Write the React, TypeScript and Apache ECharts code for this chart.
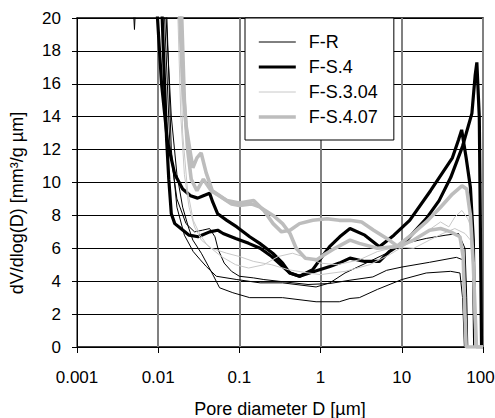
import React, { useEffect, useRef } from "react";
import * as echarts from "echarts";

const FONT = "'Liberation Sans', Arial, sans-serif";

const seriesNames = ["F-R", "F-S.4", "F-S.3.04", "F-S.4.07"];
const xTickLabels = ["0.001", "0.01", "0.1", "1", "10", "100"];

// F-R (thin black)
const frA: number[][] = [[0.004,30],[0.0049,21],[0.0051,19.3],[0.0053,21],[0.006,30],[0.011,30],[0.0125,20],[0.0145,14],[0.017,10.5],[0.02,8.5],[0.0235,7.3],[0.0267,6.5],[0.034,5.7],[0.046,4.5],[0.057,3.6],[0.083,3.3],[0.134,3.0],[0.34,3.0],[0.88,2.75],[1.7,2.75],[2.3,2.95],[3,3.0],[5,3.5],[10,4.1],[20,4.5],[40,4.6],[52,4.5],[56,3],[59,0]];
const frB: number[][] = [[0.011,30],[0.012,20],[0.014,12],[0.017,9],[0.022,7.5],[0.028,7.0],[0.035,7.1],[0.043,7.2],[0.05,6.7],[0.055,5.9],[0.065,5.1],[0.08,4.6],[0.1,4.3],[0.15,4.2],[0.2,4.1],[0.3,4.0],[0.7,3.8],[1.3,3.86],[2.3,4.06],[4.4,4.26],[6.5,4.66],[10,4.86],[22,5.15],[47,5.45],[60,5.25],[62,3],[64,0]];
const frC: number[][] = [[0.011,30],[0.0128,20],[0.0145,12],[0.017,8.5],[0.021,6.8],[0.027,5.8],[0.033,5.3],[0.039,4.9],[0.052,4.3],[0.093,4.1],[0.18,3.9],[0.34,3.9],[0.88,3.65],[1.3,3.9],[2,4.5],[4,5.2],[6.5,5.7],[11,6.3],[20,6.6],[35,6.8],[50,6.9],[60,6.0],[63,3],[65,0]];

// F-S.4 (thick black)
const fs4A: number[][] = [[0.008,40],[0.0098,20],[0.011,16],[0.013,12.5],[0.016,10.5],[0.02,9.6],[0.025,9.2],[0.0306,9.05],[0.036,9.2],[0.043,9.35],[0.047,8.8],[0.054,8.1],[0.07,7.7],[0.093,7.3],[0.134,6.7],[0.178,6.3],[0.257,5.7],[0.341,5.1],[0.416,4.5],[0.552,4.3],[0.8,4.7],[0.975,5.3],[1.29,6.1],[1.72,6.7],[2.3,7.2],[3.5,6.8],[5.3,6.1],[8,6.8],[12.5,7.7],[22.6,9.5],[42,11.5],[50,12.6],[54.6,13.2],[62,11.5],[70,9.7],[76,6.5],[79,0]];
const fs4B: number[][] = [[0.009,40],[0.0112,20],[0.0127,12.6],[0.0135,10.2],[0.0145,8.1],[0.016,7.5],[0.019,7.2],[0.024,6.8],[0.031,6.7],[0.043,7.0],[0.054,7.1],[0.063,6.9],[0.09,6.6],[0.13,6.3],[0.18,6.0],[0.25,5.5],[0.34,4.9],[0.42,4.5],[0.55,4.3],[0.85,4.6],[1.3,4.9],[1.7,5.1],[2.3,5.4],[3.5,5.2],[5.3,5.2],[7,5.8],[11.5,6.5],[20,7.8],[28.8,8.9],[40,10.3],[56,12.2],[73,14.2],[80,16.5],[84,17.3],[90,14],[96,0],[100,0]];

// F-S.3.04 (thin grey)
const fs304A: number[][] = [[0.015,30],[0.0175,20],[0.019,14],[0.021,10.5],[0.024,8.5],[0.028,7.3],[0.034,6.5],[0.045,6.0],[0.07,5.7],[0.1,5.5],[0.15,5.2],[0.25,5.0],[0.4,4.7],[0.7,4.5],[1,4.4],[2,4.6],[4,5.0],[7,5.6],[12,6.3],[20,7.0],[30,7.6],[38,7.3],[45,7.9],[55,8.3],[65,7.8],[72,7.2],[76,5],[79,0]];
const fs304B: number[][] = [[0.016,30],[0.0185,20],[0.02,13],[0.023,9.5],[0.027,7.7],[0.033,6.8],[0.04,6.2],[0.06,5.5],[0.09,5.0],[0.13,4.8],[0.2,5.0],[0.3,5.5],[0.45,5.7],[0.7,5.4],[1,5.1],[1.6,5.0],[3,5.3],[5,5.8],[9,6.1],[14,6.0],[22,6.5],[32,6.9],[45,7.2],[60,6.9],[70,6.5],[75,5],[80,0]];

// F-S.4.07 (thick grey)
const fs407A: number[][] = [[0.016,30],[0.0185,20],[0.02,16],[0.022,13.5],[0.0245,12.0],[0.0267,10.9],[0.03,11.5],[0.0338,11.8],[0.0389,10.6],[0.0464,9.5],[0.07,8.9],[0.1,8.75],[0.15,8.9],[0.2,8.3],[0.26,7.5],[0.33,7.0],[0.42,7.1],[0.55,7.5],[0.8,7.7],[1.2,7.8],[1.7,7.7],[2.3,7.7],[3.2,7.6],[4.5,7.1],[7,6.5],[9,6.1],[14,6.5],[22,7.1],[30,7.2],[40,7.0],[52,6.7],[57,5.5],[60,2],[62,0],[100,0]];
const fs407B: number[][] = [[0.017,30],[0.0195,20],[0.021,15],[0.023,12],[0.0255,10.2],[0.03,9.5],[0.036,10.2],[0.045,9.5],[0.06,9.1],[0.08,8.7],[0.1,8.6],[0.14,8.7],[0.18,8.5],[0.26,8.0],[0.34,7.5],[0.42,6.9],[0.5,6.0],[0.65,5.4],[0.9,5.3],[1.1,5.6],[1.5,6.0],[2.3,6.5],[3,6.3],[5,6.0],[8.6,6.1],[13,6.8],[20,7.6],[30,8.5],[42,9.3],[55,9.8],[63,9.6],[70,8],[76,5],[83,0],[100,0]];

const styles: Record<string, { color: string; width: number }> = {
  "F-R": { color: "#000000", width: 1 },
  "F-S.4": { color: "#000000", width: 3.2 },
  "F-S.3.04": { color: "#c8c8c8", width: 1 },
  "F-S.4.07": { color: "#bdbdbd", width: 3.6 },
};

const curves: [string, number[][]][] = [
  ["F-R", frA], ["F-R", frB], ["F-R", frC],
  ["F-S.4", fs4A], ["F-S.4", fs4B],
  ["F-S.3.04", fs304A], ["F-S.3.04", fs304B],
  ["F-S.4.07", fs407A], ["F-S.4.07", fs407B],
];

export default function App() {
  const ref = useRef<HTMLDivElement>(null);
  useEffect(() => {
    if (!ref.current) return;
    const chart = echarts.init(ref.current, undefined, { renderer: "svg" });
    chart.setOption({
      animation: false,
      backgroundColor: "#ffffff",
      textStyle: { fontFamily: FONT },
      grid: {
        left: 77, right: 12, top: 18, bottom: 71,
        show: true, borderColor: "#000", borderWidth: 1.5,
        outerBoundsMode: "none",
        containLabel: false,
      },
      legend: {
        data: seriesNames.map((n) => ({
          name: n,
          lineStyle: { width: styles[n].width, color: styles[n].color },
          itemStyle: { opacity: 0 },
        })),
        orient: "vertical",
        left: 245,
        top: 18,
        itemWidth: 37,
        itemHeight: 14,
        itemGap: 7,
        padding: [15, 16, 14, 12],
        backgroundColor: "#ffffff",
        borderColor: "#000",
        borderWidth: 1,
        selectedMode: false,
        lineStyle: { width: "inherit" },
        itemStyle: { opacity: 0 },
        textStyle: { fontSize: 18, color: "#000", fontFamily: FONT, padding: [0, 0, 0, 8] },
      },
      xAxis: {
        type: "log",
        logBase: 10,
        min: 0.001,
        max: 100,
        name: "Pore diameter D [µm]",
        nameLocation: "middle",
        nameGap: 53,
        nameTextStyle: { fontSize: 18, color: "#000", fontFamily: FONT },
        axisLine: { show: true, lineStyle: { color: "#000", width: 1 } },
        axisTick: { show: true, length: 6, lineStyle: { color: "#000" } },
        minorTick: { show: false },
        axisLabel: {
          fontSize: 17,
          color: "#000",
          fontFamily: FONT,
          margin: 22,
          formatter: (v: number) => {
            const idx = Math.round(Math.log10(v)) + 3;
            const label = xTickLabels[idx] ?? String(v);
            return idx === xTickLabels.length - 1 ? `{r|${label}}` : label;
          },
          rich: {
            r: { fontSize: 17, color: "#000", fontFamily: FONT, padding: [0, 5, 0, 0] },
          },
        },
        splitLine: { show: true, lineStyle: { color: "#808080", width: 2 } },
      },
      yAxis: {
        type: "value",
        min: 0,
        max: 20,
        interval: 2,
        axisLine: { show: true, lineStyle: { color: "#000", width: 1 } },
        axisTick: { show: true, length: 5, lineStyle: { color: "#000" } },
        axisLabel: { fontSize: 17, color: "#000", fontFamily: FONT, margin: 16 },
        splitLine: { show: true, lineStyle: { color: "#000", width: 1 } },
      },
      graphic: [
        {
          type: "text",
          x: 17,
          y: 203,
          rotation: Math.PI / 2,
          style: {
            text: "dV/dlog(D) [mm³/g µm]",
            fontSize: 18,
            fontFamily: FONT,
            fill: "#000",
            align: "center",
            verticalAlign: "middle",
          },
        },
      ],
      series: curves.map(([name, data]) => ({
        type: "line",
        name,
        data,
        symbol: "none",
        clip: true,
        lineStyle: { color: styles[name].color, width: styles[name].width },
        itemStyle: { color: styles[name].color },
        emphasis: { disabled: true },
      })),
    });
    return () => chart.dispose();
  }, []);
  return <div ref={ref} style={{ position: "fixed", left: 0, top: 0, width: 495, height: 418 }} />;
}
